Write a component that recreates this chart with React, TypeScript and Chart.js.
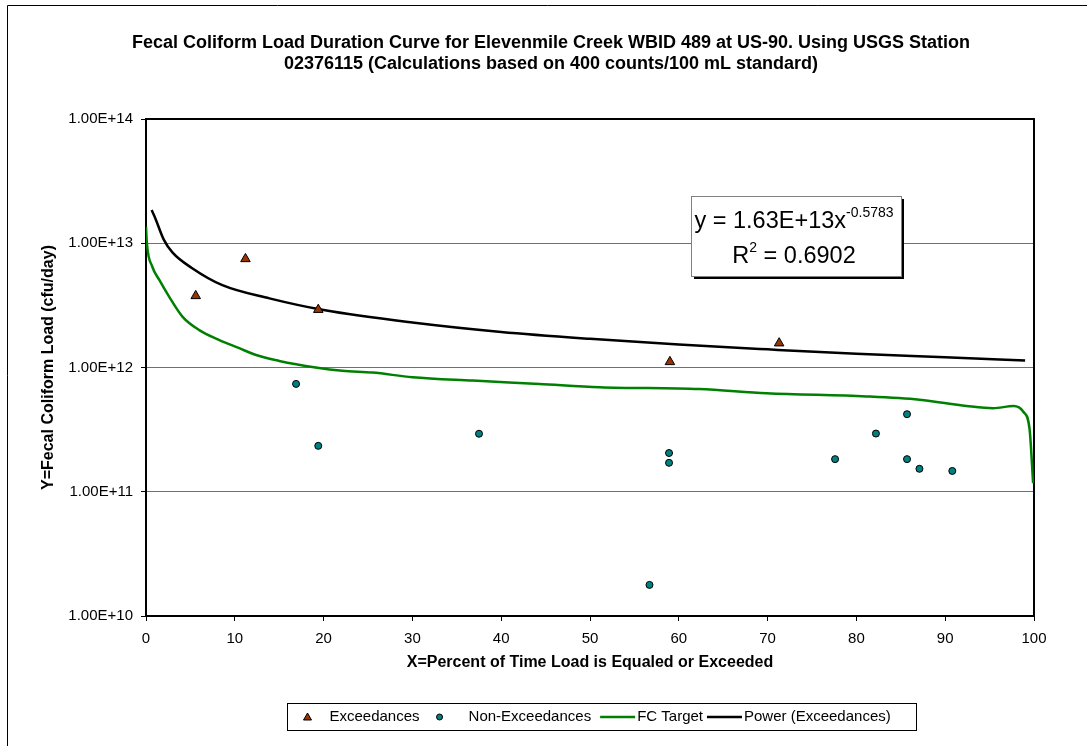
import React, { useEffect, useRef } from 'react';
import { Chart, registerables } from 'chart.js';

Chart.register(...registerables);

const FONT = '"Liberation Sans", Arial, Helvetica, sans-serif';

const titleLines = [
  'Fecal Coliform Load Duration Curve for Elevenmile Creek WBID 489 at US-90. Using USGS Station',
  '02376115 (Calculations based on 400 counts/100 mL standard)',
];
const xAxisTitle = 'X=Percent of Time Load is Equaled or Exceeded';
const yAxisTitle = 'Y=Fecal Coliform Load (cfu/day)';

const yTickValues = [1e10, 1e11, 1e12, 1e13, 1e14];
const yTickLabels = ['1.00E+10', '1.00E+11', '1.00E+12', '1.00E+13', '1.00E+14'];

const legendLabels = ['Exceedances', 'Non-Exceedances', 'FC Target', 'Power (Exceedances)'];

// Exceedances (triangles)
const exceedX = [5.6, 11.2, 19.4, 59.0, 71.3];
const exceedY = [3.77e12, 7.48e12, 2.92e12, 1.11e12, 1.57e12];

// Non-Exceedances (circles)
const nonExX = [16.9, 19.4, 37.5, 56.7, 58.9, 58.9, 77.6, 82.2, 85.7, 85.7, 87.1, 90.8];
const nonExY = [7.38e11, 2.34e11, 2.93e11, 1.78e10, 2.05e11, 1.71e11, 1.83e11, 2.94e11, 4.21e11, 1.83e11, 1.53e11, 1.47e11];

// FC Target curve
const targetX = [0, 0.1, 0.7, 1.5, 2.6, 4.1, 6.0, 8.2, 10.5, 12.4, 15, 19.1, 22.1, 25.5, 30, 36.8, 44.3, 51.1, 62.3, 69.9, 81.1, 87.1, 92.4, 95.4, 97.7, 98.8, 99.5, 99.9];
const targetY = [1.36e13, 1.0e13, 6.5e12, 5.07e12, 3.72e12, 2.57e12, 2.0e12, 1.67e12, 1.43e12, 1.26e12, 1.13e12, 1.0e12, 9.4e11, 9.1e11, 8.36e11, 7.85e11, 7.38e11, 6.95e11, 6.7e11, 6.2e11, 5.85e11, 5.5e11, 4.9e11, 4.7e11, 4.9e11, 4.4e11, 3.2e11, 1.17e11];

// Power trendline (Exceedances)
const powerX = [0.64, 1.0, 2.0, 3.0, 5.2, 8.6, 13.9, 20, 30, 40, 50, 60, 70, 80, 90, 99];
const powerY = [1.85e13, 1.62e13, 1.07e13, 8.4e12, 6.3e12, 4.6e12, 3.6e12, 2.9e12, 2.3e12, 1.93e12, 1.7e12, 1.53e12, 1.4e12, 1.29e12, 1.21e12, 1.14e12];

const eqMain = 'y = 1.63E+13x';
const eqExp = '-0.5783';
const r2Base = 'R';
const r2Sup = '2';
const r2Rest = ' = 0.6902';

const zip = (xs: number[], ys: number[]) => xs.map((x, i) => ({ x, y: ys[i] }));

const decorPlugin = {
  id: 'decor',
  beforeDraw(chart: any) {
    const ctx = chart.ctx;
    ctx.save();
    ctx.fillStyle = '#fff';
    ctx.fillRect(0, 0, chart.width, chart.height);
    // outer chart border (cropped)
    ctx.strokeStyle = '#000';
    ctx.lineWidth = 1;
    ctx.beginPath();
    ctx.moveTo(7.5, chart.height);
    ctx.lineTo(7.5, 5.5);
    ctx.lineTo(chart.width, 5.5);
    ctx.stroke();
    // title
    ctx.fillStyle = '#000';
    ctx.font = `bold 18px ${FONT}`;
    ctx.textAlign = 'center';
    ctx.textBaseline = 'middle';
    titleLines.forEach((t, i) => ctx.fillText(t, 551, 43 + i * 21));
    ctx.restore();
  },
  beforeDatasetsDraw(chart: any) {
    const { ctx, chartArea } = chart;
    ctx.save();
    ctx.strokeStyle = '#000';
    ctx.lineWidth = 2;
    ctx.strokeRect(chartArea.left, chartArea.top, chartArea.right - chartArea.left, chartArea.bottom - chartArea.top);
    ctx.restore();
  },
  afterDraw(chart: any) {
    const { ctx, chartArea } = chart;
    ctx.save();
    // Equation box
    const bx = chartArea.left + 545;
    const by = chartArea.top + 77;
    const bw = 210;
    const bh = 80;
    ctx.fillStyle = '#000';
    ctx.fillRect(bx + 3, by + 3, bw, bh);
    ctx.fillStyle = '#fff';
    ctx.fillRect(bx, by, bw, bh);
    ctx.strokeStyle = '#808080';
    ctx.lineWidth = 1;
    ctx.strokeRect(bx + 0.5, by + 0.5, bw, bh);
    ctx.fillStyle = '#000';
    ctx.textBaseline = 'alphabetic';
    ctx.textAlign = 'left';
    const big = `23.5px ${FONT}`;
    const small = `14px ${FONT}`;
    const cx = bx + bw / 2 - 2;
    ctx.font = big;
    const w1 = ctx.measureText(eqMain).width;
    ctx.font = small;
    const w1s = ctx.measureText(eqExp).width;
    const x1 = cx - (w1 + w1s) / 2;
    ctx.font = big;
    ctx.fillText(eqMain, x1, by + 32);
    ctx.font = small;
    ctx.fillText(eqExp, x1 + w1, by + 21);
    ctx.font = big;
    const wR = ctx.measureText(r2Base).width;
    const wRest = ctx.measureText(r2Rest).width;
    ctx.font = small;
    const wS = ctx.measureText(r2Sup).width;
    const x2 = cx - (wR + wS + wRest) / 2;
    ctx.font = big;
    ctx.fillText(r2Base, x2, by + 67);
    ctx.font = small;
    ctx.fillText(r2Sup, x2 + wR, by + 56);
    ctx.font = big;
    ctx.fillText(r2Rest, x2 + wR + wS, by + 67);

    // Legend
    const lx = 287.5;
    const ly = 703.5;
    const lw = 629;
    const lh = 27;
    ctx.fillStyle = '#fff';
    ctx.fillRect(lx, ly, lw, lh);
    ctx.strokeStyle = '#000';
    ctx.lineWidth = 1;
    ctx.strokeRect(lx, ly, lw, lh);
    const cy = ly + lh / 2;
    ctx.font = `15px ${FONT}`;
    ctx.textBaseline = 'middle';
    const ds = chart.data.datasets;
    let x = lx + 20;
    // triangle
    ctx.fillStyle = ds[0].backgroundColor;
    ctx.strokeStyle = ds[0].borderColor;
    ctx.lineWidth = 1;
    ctx.beginPath();
    ctx.moveTo(x, cy - 4);
    ctx.lineTo(x + 4, cy + 3);
    ctx.lineTo(x - 4, cy + 3);
    ctx.closePath();
    ctx.fill();
    ctx.stroke();
    x = lx + 42;
    ctx.fillStyle = '#000';
    ctx.fillText(legendLabels[0], x, cy);
    x += ctx.measureText(legendLabels[0]).width + 20;
    // circle
    ctx.fillStyle = ds[1].backgroundColor;
    ctx.strokeStyle = ds[1].borderColor;
    ctx.beginPath();
    ctx.arc(x, cy, 3, 0, Math.PI * 2);
    ctx.fill();
    ctx.stroke();
    x += 29;
    ctx.fillStyle = '#000';
    ctx.fillText(legendLabels[1], x, cy);
    x += ctx.measureText(legendLabels[1]).width + 9;
    // green line
    ctx.strokeStyle = ds[2].borderColor;
    ctx.lineWidth = 2.5;
    ctx.beginPath();
    ctx.moveTo(x, cy);
    ctx.lineTo(x + 35, cy);
    ctx.stroke();
    x += 37;
    ctx.fillText(legendLabels[2], x, cy);
    x += ctx.measureText(legendLabels[2]).width + 4;
    ctx.strokeStyle = ds[3].borderColor;
    ctx.beginPath();
    ctx.moveTo(x, cy);
    ctx.lineTo(x + 35, cy);
    ctx.stroke();
    x += 37;
    ctx.fillText(legendLabels[3], x, cy);
    ctx.restore();
  },
};

export default function App() {
  const ref = useRef<HTMLCanvasElement | null>(null);
  useEffect(() => {
    document.body.style.margin = '0';
    const canvas = ref.current;
    if (!canvas) return;
    const chart = new Chart(canvas, {
      type: 'scatter',
      data: {
        datasets: [
          {
            label: legendLabels[0],
            data: zip(exceedX, exceedY),
            pointStyle: 'triangle',
            pointRadius: 5.5,
            backgroundColor: '#993300',
            borderColor: '#000',
            borderWidth: 1,
            showLine: false,
          },
          {
            label: legendLabels[1],
            data: zip(nonExX, nonExY),
            pointStyle: 'circle',
            pointRadius: 3.5,
            backgroundColor: '#008080',
            borderColor: '#000',
            borderWidth: 1,
            showLine: false,
          },
          {
            label: legendLabels[2],
            data: zip(targetX, targetY),
            showLine: true,
            pointRadius: 0,
            borderColor: '#008000',
            backgroundColor: '#008000',
            borderWidth: 2.5,
            cubicInterpolationMode: 'monotone',
          },
          {
            label: legendLabels[3],
            data: zip(powerX, powerY),
            showLine: true,
            pointRadius: 0,
            borderColor: '#000',
            backgroundColor: '#000',
            borderWidth: 2.5,
            cubicInterpolationMode: 'monotone',
          },
        ],
      } as any,
      options: {
        responsive: false,
        animation: false,
        events: [],
        layout: { padding: { left: 0, right: 53, top: 119, bottom: 0 } },
        plugins: {
          legend: { display: false },
          title: { display: false },
          tooltip: { enabled: false },
        },
        scales: {
          x: {
            type: 'linear',
            min: 0,
            max: 100,
            ticks: {
              stepSize: 10,
              color: '#000',
              font: { family: FONT, size: 15 },
              padding: 9,
              maxRotation: 0,
            },
            grid: { drawOnChartArea: false, drawTicks: true, tickLength: 5, tickColor: '#000', tickWidth: 1 },
            border: { display: false },
            title: {
              display: true,
              text: xAxisTitle,
              color: '#000',
              font: { family: FONT, size: 16, weight: 'bold' },
              padding: { top: 0, bottom: 74 },
            },
            afterFit: (s: any) => {
              s.height = 130;
            },
          },
          y: {
            type: 'logarithmic',
            min: 1e10,
            max: 1e14,
            afterBuildTicks: (s: any) => {
              s.ticks = yTickValues.map((v) => ({ value: v }));
            },
            ticks: {
              color: '#000',
              font: { family: FONT, size: 15 },
              padding: 8,
              callback: (v: any) => {
                const i = yTickValues.findIndex((t) => Math.abs(Math.log10(t) - Math.log10(Number(v))) < 1e-6);
                return i >= 0 ? yTickLabels[i] : '';
              },
            },
            grid: { color: '#707070', lineWidth: 1, drawTicks: true, tickLength: 5, tickColor: '#000' },
            border: { display: false },
            title: {
              display: true,
              text: yAxisTitle,
              color: '#000',
              font: { family: FONT, size: 16, weight: 'bold' },
              padding: { top: 39, bottom: 0 },
            },
            afterFit: (s: any) => {
              s.width = 146;
            },
          },
        },
      } as any,
      plugins: [decorPlugin],
    });
    return () => chart.destroy();
  }, []);
  return (
    <div style={{ width: 1087, height: 746 }}>
      <canvas ref={ref} width={1087} height={746} style={{ display: 'block', width: 1087, height: 746 }} />
    </div>
  );
}
